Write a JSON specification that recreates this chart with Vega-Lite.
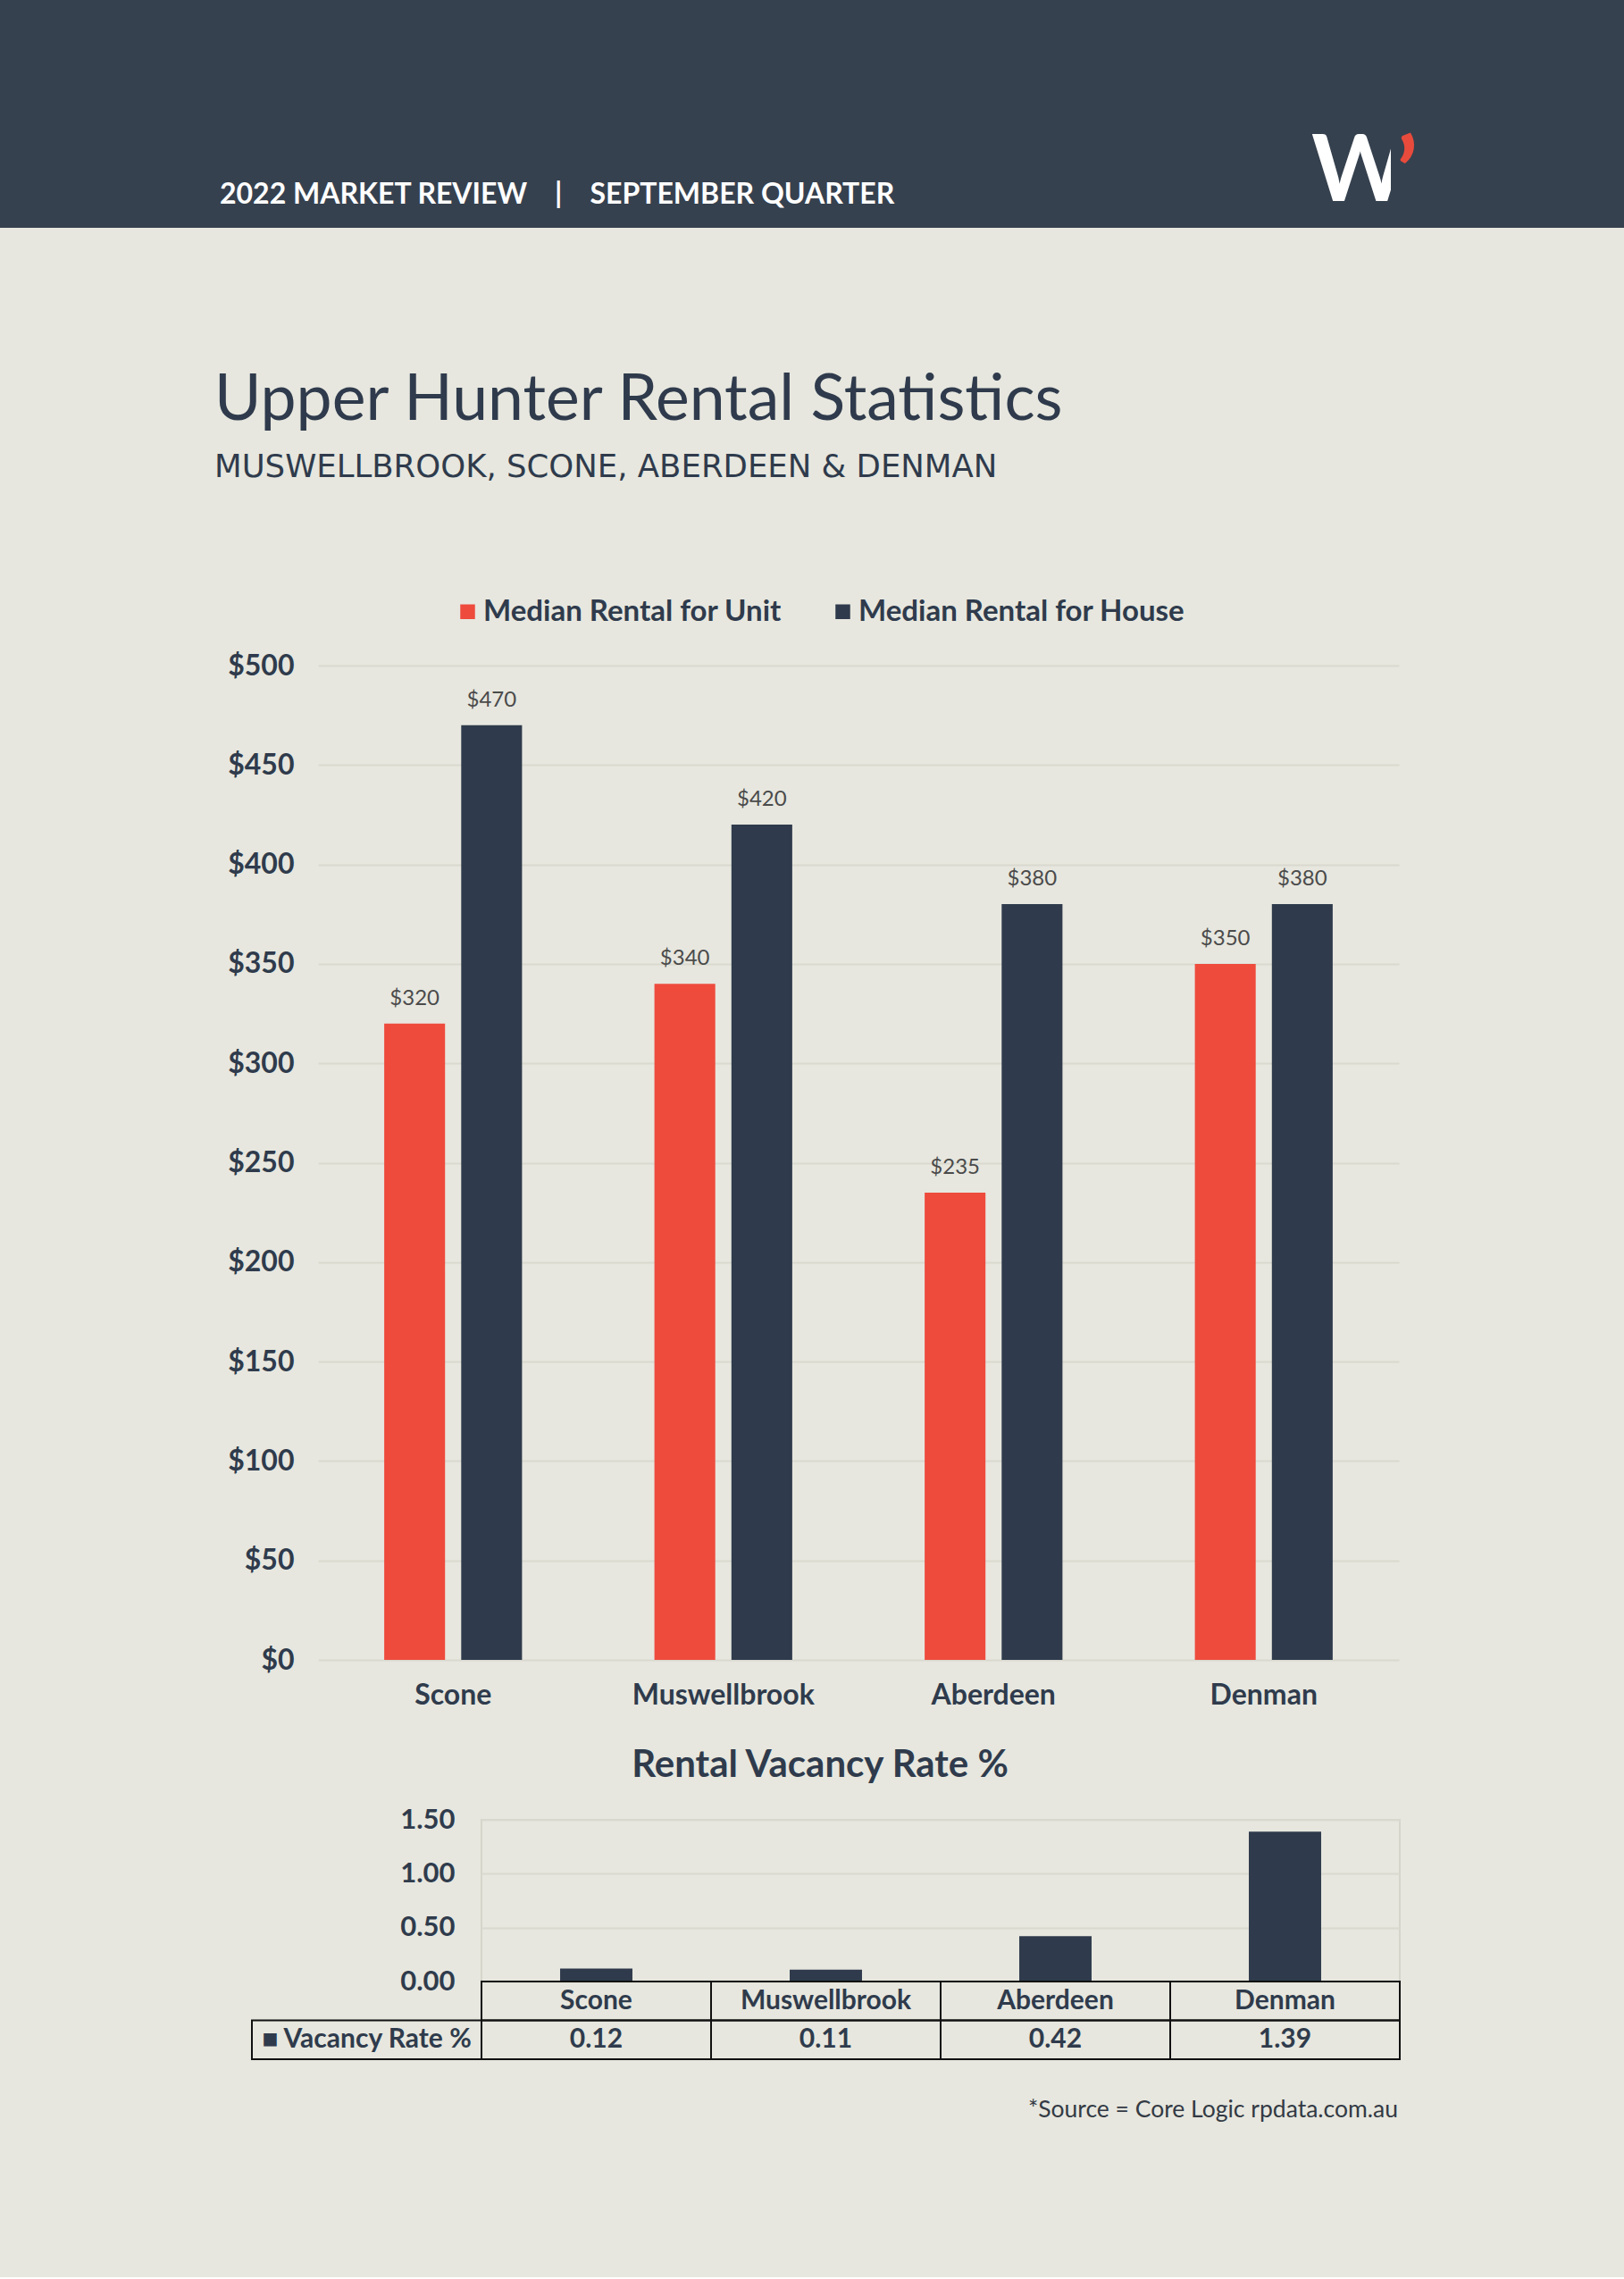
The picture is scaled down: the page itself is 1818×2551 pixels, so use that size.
{
  "$schema": "https://vega.github.io/schema/vega-lite/v6.json",
  "background": "#e7e7df",
  "padding": {"left": 0, "top": 0, "right": 0, "bottom": 172},
  "config": {
    "view": {"stroke": null},
    "font": "Lato",
    "title": {"font": "Lato", "subtitleFont": "Lato"},
    "axis": {"labelFont": "Lato"},
    "legend": {"labelFont": "Lato"}
  },
  "datasets": {
    "rent": [
      {"suburb": "Scone", "series": "Median Rental for Unit", "value": 320},
      {"suburb": "Scone", "series": "Median Rental for House", "value": 470},
      {"suburb": "Muswellbrook", "series": "Median Rental for Unit", "value": 340},
      {"suburb": "Muswellbrook", "series": "Median Rental for House", "value": 420},
      {"suburb": "Aberdeen", "series": "Median Rental for Unit", "value": 235},
      {"suburb": "Aberdeen", "series": "Median Rental for House", "value": 380},
      {"suburb": "Denman", "series": "Median Rental for Unit", "value": 350},
      {"suburb": "Denman", "series": "Median Rental for House", "value": 380}
    ],
    "vac": [
      {"suburb": "Scone", "rate": 0.12},
      {"suburb": "Muswellbrook", "rate": 0.11},
      {"suburb": "Aberdeen", "rate": 0.42},
      {"suburb": "Denman", "rate": 1.39}
    ],
    "tablelabel": [{"label": "■ Vacancy Rate %"}],
    "source": [{"note": "*Source = Core Logic rpdata.com.au"}],
    "blank": [{"t": ""}]
  },
  "spacing": 157,
  "vconcat": [
    {
      "spacing": 0,
      "bounds": "flush",
      "hconcat": [
        {
          "width": 1460,
          "height": 255,
          "view": {"fill": "#36414f", "stroke": null},
          "data": {"name": "blank"},
          "mark": {"type": "text"},
          "encoding": {"text": {"field": "t"}},
          "title": {
            "text": "2022 MARKET REVIEW\u00a0\u00a0\u00a0\u00a0|\u00a0\u00a0\u00a0\u00a0SEPTEMBER QUARTER",
            "orient": "bottom", "anchor": "start", "frame": "group",
            "dx": 246, "offset": -52,
            "fontSize": 32, "fontWeight": "bold", "color": "#ffffff"
          }
        },
        {
          "width": 97,
          "height": 255,
          "view": {"fill": "#36414f", "stroke": null},
          "data": {"name": "blank"},
          "mark": {"type": "text"},
          "encoding": {"text": {"field": "t"}},
          "title": {
            "text": "W",
            "orient": "bottom", "anchor": "start", "frame": "group",
            "dx": 8, "offset": -112,
            "fontSize": 104, "fontWeight": "bold", "color": "#ffffff"
          }
        },
        {
          "width": 261,
          "height": 255,
          "view": {"fill": "#36414f", "stroke": null},
          "data": {"name": "blank"},
          "mark": {"type": "text"},
          "encoding": {"text": {"field": "t"}},
          "title": {
            "text": "’",
            "orient": "bottom", "anchor": "start", "frame": "group",
            "dx": 6, "offset": -108.6,
            "fontSize": 110, "fontWeight": "bold", "color": "#e84b3c"
          }
        }
      ]
    },
    {
      "spacing": 40,
      "vconcat": [
        {
          "spacing": 0,
          "bounds": "flush",
          "hconcat": [
            {
              "width": 356,
              "height": 1,
              "data": {"name": "blank"},
              "mark": {"type": "text"},
              "encoding": {"text": {"field": "t"}}
            },
            {
              "width": 1210,
              "height": 1113,
              "data": {"name": "rent"},
              "title": {
                "text": "Upper Hunter Rental Statistics",
                "subtitle": "MUSWELLBROOK, SCONE, ABERDEEN & DENMAN",
                "anchor": "start", "frame": "group", "dx": -116,
                "fontSize": 71.5, "fontWeight": "normal", "color": "#2f3b4c",
                "subtitleFont": "DejaVu Sans",
                "subtitleFontSize": 35.5, "subtitleColor": "#2f3b4c", "subtitlePadding": 20.4,
                "offset": 186.6
              },
              "encoding": {
                "x": {
                  "field": "suburb", "type": "nominal",
                  "sort": ["Scone", "Muswellbrook", "Aberdeen", "Denman"],
                  "scale": {"paddingInner": 0.49, "paddingOuter": 0.245},
                  "axis": {
                    "title": null, "labelAngle": 0, "domain": false, "ticks": false,
                    "labelFontSize": 32, "labelFontWeight": "bold", "labelColor": "#2f3b4c",
                    "labelPadding": 24, "labelLimit": 400
                  }
                },
                "xOffset": {
                  "field": "series", "type": "nominal",
                  "sort": ["Median Rental for Unit", "Median Rental for House"],
                  "scale": {"paddingInner": 0.21, "paddingOuter": 0}
                },
                "y": {
                  "field": "value", "type": "quantitative",
                  "scale": {"domain": [0, 500]},
                  "axis": {
                    "title": null, "values": [0, 50, 100, 150, 200, 250, 300, 350, 400, 450, 500],
                    "format": "$.0f", "domain": false, "ticks": false,
                    "labelFontSize": 32, "labelFontWeight": "bold", "labelColor": "#2f3b4c",
                    "labelPadding": 27, "gridColor": "#d9d9d0", "gridWidth": 2
                  }
                }
              },
              "layer": [
                {
                  "mark": {"type": "bar"},
                  "encoding": {
                    "color": {
                      "field": "series", "type": "nominal",
                      "scale": {
                        "domain": ["Median Rental for Unit", "Median Rental for House"],
                        "range": ["#ee4b3d", "#2f3b4c"]
                      },
                      "legend": {
                        "orient": "none", "legendX": 507, "legendY": 668,
                        "direction": "horizontal", "title": null, "padding": 0,
                        "symbolType": "square", "symbolSize": 272, "symbolStrokeWidth": 0,
                        "labelFontSize": 33, "labelFontWeight": "bold", "labelColor": "#2f3b4c",
                        "labelOffset": 1, "columnPadding": 51, "labelLimit": 600
                      }
                    }
                  }
                },
                {
                  "mark": {"type": "text", "baseline": "alphabetic", "dy": -21, "fontSize": 24, "color": "#4b4b4b"},
                  "encoding": {
                    "text": {"field": "value", "type": "quantitative", "format": "$.0f"}
                  }
                }
              ]
            }
          ]
        },
        {
          "spacing": 0,
          "bounds": "flush",
          "hconcat": [
            {
              "width": 539,
              "height": 1,
              "data": {"name": "blank"},
              "mark": {"type": "text"},
              "encoding": {"text": {"field": "t"}}
            },
            {
              "width": 1028,
              "height": 268,
              "view": {"stroke": "#d5d5cc", "strokeWidth": 2},
              "title": {
                "text": "Rental Vacancy Rate %",
                "anchor": "middle", "frame": "group", "dx": -135, "offset": 23.5,
                "fontSize": 42, "fontWeight": "bold", "color": "#2f3b4c"
              },
              "resolve": {
                "scale": {"x": "independent", "y": "independent"},
                "axis": {"x": "independent", "y": "independent"}
              },
              "layer": [
                {
                  "data": {"name": "vac"},
                  "mark": {"type": "bar", "color": "#2f3b4c"},
                  "encoding": {
                    "x": {
                      "field": "suburb", "type": "nominal",
                      "sort": ["Scone", "Muswellbrook", "Aberdeen", "Denman"],
                      "scale": {"paddingInner": 0.685, "paddingOuter": 0.3425},
                      "axis": null
                    },
                    "y": {
                      "field": "rate", "type": "quantitative",
                      "scale": {"domain": [0, 1.5], "range": [181, 0]},
                      "axis": {
                        "title": null, "values": [0, 0.5, 1, 1.5], "format": ".2f",
                        "domain": false, "ticks": false,
                        "labelFontSize": 31, "labelFontWeight": "bold", "labelColor": "#2f3b4c",
                        "labelPadding": 30, "gridColor": "#d9d9d0", "gridWidth": 2
                      }
                    }
                  }
                },
                {
                  "data": {"name": "vac"},
                  "encoding": {
                    "x": {
                      "field": "suburb", "type": "nominal",
                      "scale": {
                        "domain": ["legend", "Scone", "Muswellbrook", "Aberdeen", "Denman"],
                        "range": [-257, 1028],
                        "paddingInner": 0, "paddingOuter": 0
                      },
                      "axis": null
                    }
                  },
                  "layer": [
                    {
                      "mark": {"type": "rect", "fill": "transparent", "stroke": "#111111", "strokeWidth": 2},
                      "encoding": {
                        "y": {
                          "datum": "names", "type": "nominal",
                          "scale": {
                            "domain": ["names", "values", "gap", "source"],
                            "range": [181, 355],
                            "paddingInner": 0, "paddingOuter": 0
                          },
                          "axis": null
                        }
                      }
                    },
                    {
                      "mark": {"type": "text", "fontSize": 30, "fontWeight": "bold", "color": "#2f3b4c"},
                      "encoding": {
                        "y": {"datum": "names", "type": "nominal"},
                        "text": {"field": "suburb", "type": "nominal"}
                      }
                    },
                    {
                      "mark": {"type": "rect", "fill": "transparent", "stroke": "#111111", "strokeWidth": 2},
                      "encoding": {
                        "y": {"datum": "values", "type": "nominal"}
                      }
                    },
                    {
                      "mark": {"type": "text", "fontSize": 30, "fontWeight": "bold", "color": "#2f3b4c"},
                      "encoding": {
                        "y": {"datum": "values", "type": "nominal"},
                        "text": {"field": "rate", "type": "quantitative", "format": ".2f"}
                      }
                    },
                    {
                      "data": {"name": "tablelabel"},
                      "mark": {"type": "rect", "fill": "transparent", "stroke": "#111111", "strokeWidth": 2},
                      "encoding": {
                        "x": {"datum": "legend", "type": "nominal"},
                        "y": {"datum": "values", "type": "nominal"}
                      }
                    },
                    {
                      "data": {"name": "tablelabel"},
                      "mark": {"type": "text", "fontSize": 30, "fontWeight": "bold", "color": "#2f3b4c"},
                      "encoding": {
                        "x": {"datum": "legend", "type": "nominal"},
                        "y": {"datum": "values", "type": "nominal"},
                        "text": {"field": "label", "type": "nominal"}
                      }
                    },
                    {
                      "data": {"name": "source"},
                      "mark": {"type": "text", "align": "right", "dx": -2, "dy": -8, "fontSize": 26.5, "color": "#333a44"},
                      "encoding": {
                        "x": {"datum": "Denman", "type": "nominal", "bandPosition": 1},
                        "y": {"datum": "source", "type": "nominal"},
                        "text": {"field": "note", "type": "nominal"}
                      }
                    }
                  ]
                }
              ]
            }
          ]
        }
      ]
    }
  ]
}
